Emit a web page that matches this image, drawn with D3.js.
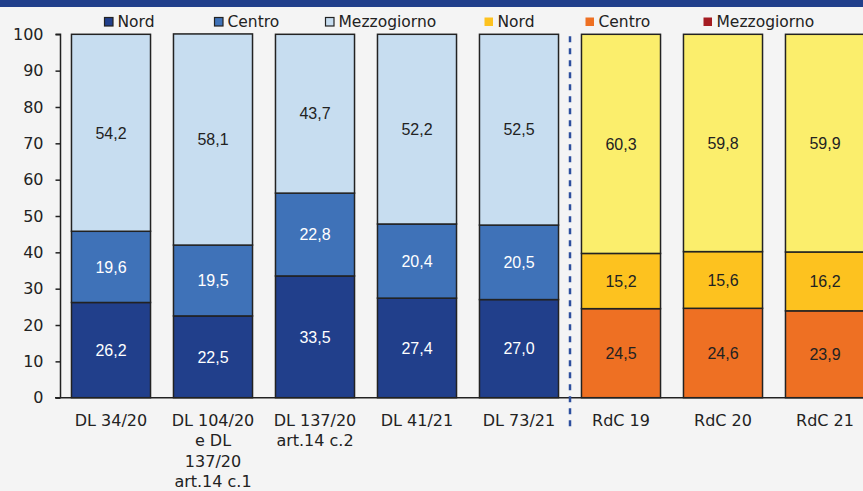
<!DOCTYPE html>
<html>
<head>
<meta charset="utf-8">
<script src="https://cdn.jsdelivr.net/npm/d3@7"></script>
<style>
  body { margin: 0; background: #f4f4f4; }
  svg { display: block; }
</style>
</head>
<body>
<div id="chart"></div>
<script>
// categorie (asse x) e righe delle etichette
var categories = ["DL 34/20", "DL 104/20 e DL 137/20 art.14 c.1", "DL 137/20 art.14 c.2", "DL 41/21", "DL 73/21", "RdC 19", "RdC 20", "RdC 21"];
var tickLines = [["DL 34/20"], ["DL 104/20", "e DL", "137/20", "art.14 c.1"], ["DL 137/20", "art.14 c.2"], ["DL 41/21"], ["DL 73/21"], ["RdC 19"], ["RdC 20"], ["RdC 21"]];

// quote % per area
var nord = [26.2, 22.5, 33.5, 27.4, 27.0, 24.5, 24.6, 23.9];
var centro = [19.6, 19.5, 22.8, 20.4, 20.5, 15.2, 15.6, 16.2];
var mezzogiorno = [54.2, 58.1, 43.7, 52.2, 52.5, 60.3, 59.8, 59.9];

var yTicks = [0, 10, 20, 30, 40, 50, 60, 70, 80, 90, 100];

var legendNames = ["Nord", "Centro", "Mezzogiorno", "Nord", "Centro", "Mezzogiorno"];
var legendColors = ["#213f8b", "#3f72b8", "#c7ddf0", "#fdc21f", "#ee7023", "#a41c22"];
var legendX = [104, 214, 325, 484, 585, 703];

var blueCols = ["#213f8b", "#3f72b8", "#c7ddf0"];
var warmCols = ["#ee7023", "#fdc21f", "#fbee6c"];

var width = 863, height = 491;

var svg = d3.select("#chart").append("svg")
	.attr("width", width)
	.attr("height", height);

svg.append("rect").attr("width", width).attr("height", height).attr("fill", "#f4f4f4");
svg.append("rect").attr("width", width).attr("height", 7).attr("fill", "#213f8b");

var x = d3.scaleBand()
	.domain(categories)
	.range([60, 876])
	.paddingInner(0.225)
	.paddingOuter(0.1125);

var y = d3.scaleLinear()
	.domain([0, 100])
	.range([397.7, 34.3]);

// stack
var rows = categories.map(function(c, i) {
	return {cat: c, idx: i, nord: nord[i], centro: centro[i], mezzogiorno: mezzogiorno[i]};
});
var stack = d3.stack().keys(["nord", "centro", "mezzogiorno"]);
var series = stack(rows);

var g = svg.append("g");
series.forEach(function(s, k) {
	g.selectAll(".seg" + k)
		.data(s)
		.enter().append("rect")
		.attr("x", function(d) { return x(d.data.cat); })
		.attr("width", x.bandwidth())
		.attr("y", function(d) { return y(d[1]); })
		.attr("height", function(d) { return y(d[0]) - y(d[1]); })
		.attr("fill", function(d) { return d.data.idx < 5 ? blueCols[k] : warmCols[k]; })
		.attr("stroke", "#222")
		.attr("stroke-width", 1.5);

	g.selectAll(".lab" + k)
		.data(s)
		.enter().append("text")
		.attr("x", function(d) { return x(d.data.cat) + x.bandwidth() / 2; })
		.attr("y", function(d) { return (y(d[0]) + y(d[1])) / 2; })
		.attr("dy", "0.36em")
		.attr("text-anchor", "middle")
		.attr("font-family", "Liberation Sans")
		.attr("font-size", 16)
		.attr("fill", function(d) { return (d.data.idx < 5 && k < 2) ? "#ffffff" : "#222"; })
		.text(function(d) { return d3.format(".1f")(d[1] - d[0]).replace(".", ","); });
});

// asse y
var yAxis = svg.append("g")
	.attr("transform", "translate(60.5,0)")
	.call(d3.axisLeft(y).tickValues(yTicks).tickSize(5).tickPadding(12));
yAxis.select(".domain").attr("stroke", "#222").attr("stroke-width", 1.5).attr("d", "M-5," + y(100) + "H0V" + y(0));
yAxis.selectAll(".tick line").attr("stroke", "#222").attr("stroke-width", 1.5);
yAxis.selectAll("text").attr("font-family", "DejaVu Sans").attr("font-size", 16).attr("fill", "#222");

// asse x
svg.append("line")
	.attr("x1", 55).attr("x2", width)
	.attr("y1", y(0)).attr("y2", y(0))
	.attr("stroke", "#222").attr("stroke-width", 1.5);

var xl = svg.selectAll(".xlab")
	.data(categories)
	.enter().append("text")
	.attr("text-anchor", "middle")
	.attr("font-family", "DejaVu Sans")
	.attr("font-size", 16)
	.attr("fill", "#222");
xl.each(function(c, i) {
	var t = d3.select(this);
	tickLines[i].forEach(function(line, j) {
		t.append("tspan")
			.attr("x", x(c) + x.bandwidth() / 2)
			.attr("y", y(0) + 28.5 + j * 20.2)
			.text(line);
	});
});

// linea di separazione
var sepX = (x(categories[4]) + x.bandwidth() + x(categories[5])) / 2;
svg.append("line")
	.attr("x1", sepX).attr("x2", sepX)
	.attr("y1", y(100) + 2).attr("y2", 429)
	.attr("stroke", "#2d4f9e")
	.attr("stroke-width", 2.5)
	.attr("stroke-dasharray", "6,6");

// legenda
var leg = svg.selectAll(".leg")
	.data(legendNames)
	.enter().append("g")
	.attr("transform", function(d, i) { return "translate(" + legendX[i] + ",0)"; });
leg.append("rect")
	.attr("x", 0.5).attr("y", 17.5)
	.attr("width", 8.5).attr("height", 8.5)
	.attr("fill", function(d, i) { return legendColors[i]; })
	.attr("stroke", function(d, i) { return i < 3 ? "#222" : "none"; })
	.attr("stroke-width", 1.2);
leg.append("text")
	.attr("x", 13.5).attr("y", 27)
	.attr("font-family", "DejaVu Sans")
	.attr("font-size", 15.5)
	.attr("fill", "#222")
	.text(function(d) { return d; });
</script>
</body>
</html>
